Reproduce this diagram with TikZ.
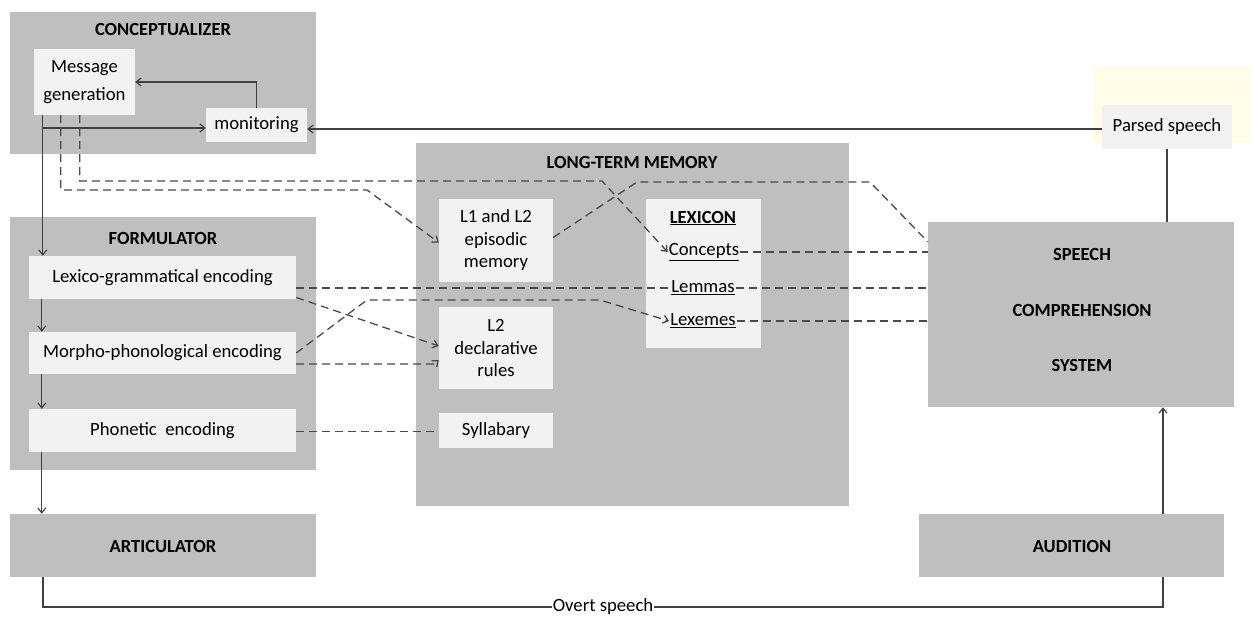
\documentclass[tikz,border=0pt]{standalone}
\usepackage{fontspec}
\setmainfont{Carlito}
\usetikzlibrary{arrows.meta}
\definecolor{outerg}{HTML}{BFBFBF}
\definecolor{innerg}{HTML}{F2F2F2}
\definecolor{lineg}{HTML}{404040}
\definecolor{dashg}{HTML}{4A4A4A}
\definecolor{paleyel}{HTML}{FFFDE8}
\begin{document}
\begin{tikzpicture}[x=1pt,y=-1pt,
 outerbox/.style={fill=outerg,draw=none,inner sep=0pt},
 innerbox/.style={fill=innerg,draw=none,inner sep=0pt,align=center,font=\fontsize{18.7}{22.5}\selectfont},
 title/.style={font=\fontsize{18.5}{20}\selectfont\bfseries,inner sep=0pt},
 txt/.style={font=\fontsize{18.7}{20}\selectfont,inner sep=1pt},
 conn/.style={draw=lineg,line width=1.2pt},
 arr/.style={-{Straight Barb[length=5pt,width=8pt]}},
 dsh/.style={draw=dashg,line width=1.3pt,dash pattern=on 8pt off 5pt}]
\useasboundingbox (0,0) rectangle (1253,616);

% outer boxes
\node[outerbox,minimum width=306pt,minimum height=142pt] (concept) at (163,83) {};
\node[title] (concepttitle) at (163,30) {CONCEPTUALIZER};
\node[outerbox,minimum width=306pt,minimum height=253pt] (form) at (163,343.5) {};
\node[title] (formtitle) at (163,238) {FORMULATOR};
\node[outerbox,minimum width=306pt,minimum height=63pt] (art) at (163,545.5) {};
\node[title] (arttitle) at (163,546) {ARTICULATOR};
\node[outerbox,minimum width=433pt,minimum height=363pt] (ltm) at (632.5,324.5) {};
\node[title] (ltmtitle) at (632,162) {LONG-TERM MEMORY};
\node[outerbox,minimum width=306pt,minimum height=185pt] (scs) at (1081,314.5) {};
\node[title] (scs1) at (1082,254) {SPEECH};
\node[title] (scs2) at (1082,310) {COMPREHENSION};
\node[title] (scs3) at (1082,365) {SYSTEM};
\node[outerbox,minimum width=305pt,minimum height=63pt] (aud) at (1071.5,545.5) {};
\node[title] (audtitle) at (1072,546) {AUDITION};

% inner boxes
\node[innerbox,minimum width=101pt,minimum height=66pt,font=\fontsize{18.7}{28}\selectfont] (msg) at (84.5,82) {Message\\generation};
\node[innerbox,minimum width=101pt,minimum height=34pt] (mon) at (256.5,125) {monitoring};
\node[innerbox,minimum width=267pt,minimum height=43pt] (lex) at (162.5,277.5) {Lexico-grammatical encoding};
\node[innerbox,minimum width=267pt,minimum height=42pt] (morph) at (162.5,353) {Morpho-phonological encoding};
\node[innerbox,minimum width=267pt,minimum height=43pt] (phon) at (162.5,430.5) {Phonetic\ \ encoding};
\node[innerbox,minimum width=114pt,minimum height=83pt] (epi) at (496,240.5) {L1 and L2\\episodic\\memory};
\node[innerbox,minimum width=114pt,minimum height=82pt] (decl) at (496,348) {L2\\declarative\\rules};
\node[innerbox,minimum width=114pt,minimum height=35pt] (syll) at (496,430.5) {Syllabary};
\node[innerbox,minimum width=115pt,minimum height=149pt] (lexicon) at (703.5,273.5) {};
\node[title] (lexicontitle) at (703,218) {\underline{LEXICON}};
\node[txt] (concepts) at (704,252) {\underline{Concepts}};
\node[txt] (lemmas) at (703,288) {\underline{Lemmas}};
\node[txt] (lexemes) at (703,321) {\underline{Lexemes}};
\fill[paleyel] (1093,67) rectangle (1250,143);
\node[innerbox,minimum width=130pt,minimum height=44pt] (parsed) at (1167,127) {Parsed speech};

% solid connectors
\coordinate (c0) at ([xshift=9pt]msg.south west);
\draw[conn,arr] (c0) -- (c0 |- lex.north);
\coordinate (br) at (43,128);
\draw[conn,arr] (br) -- (br -| mon.west);
\draw[conn,arr] (mon.north) |- (msg.east);
\draw[conn,arr] ([yshift=-2pt]parsed.west) -- ([yshift=-2pt]parsed.west -| mon.east);
\draw[conn] (parsed.south |- scs.north) -- (parsed.south);
\coordinate (c1) at ([xshift=13pt]lex.south west);
\draw[conn,arr] (c1) -- (c1 |- morph.north);
\draw[conn,arr] (c1 |- morph.south) -- (c1 |- phon.north);
\draw[conn,arr] (c1 |- phon.south) -- (c1 |- art.north);
\coordinate (o1) at (43,607);
\coordinate (o2) at (1163,607);
\draw[conn] (o1 |- art.south) -- (o1) -- node[fill=white,inner sep=1pt,font=\fontsize{18.7}{20}\selectfont] (overt) {Overt speech} (o2) -- (o2 |- aud.south);
\draw[conn,arr] (o2 |- aud.north) -- (o2 |- scs.south);

% dashed connectors
\coordinate (m1) at ([xshift=27pt]msg.south west);
\coordinate (m2) at ([xshift=46pt]msg.south west);
\draw[dsh,arr] (m1) |- (367,190) -- ([yshift=-2pt]epi.west);
\draw[dsh,arr] (m2) |- (602,181) -- (concepts.west);
\draw[dsh] ([yshift=3pt]epi.east) -- (637,182) -- (870,182) -- ([yshift=-20pt]scs.north west);
\draw[dsh] (concepts.east) -- (concepts.east -| scs.west);
\draw[dsh] ([yshift=-11pt]lex.east) -- (lex.east |- lemmas.west) -- (lemmas.west);
\draw[dsh] (lemmas.east) -- (lemmas.east -| scs.west);
\draw[dsh,arr] (morph.east) -- (367,300) -- (600,300) -- (lexemes.west);
\draw[dsh] (lexemes.east) -- (lexemes.east -| scs.west);
\draw[dsh,arr] ([yshift=-20pt]lex.east) -- ([yshift=2pt]decl.west);
\draw[dsh,arr] ([yshift=-11pt]morph.east) -- (434,364) -- ([yshift=-12pt]decl.west);
\draw[dsh] ([yshift=-1pt]phon.east) -- ([yshift=-1pt]syll.west);
\end{tikzpicture}
\end{document}
